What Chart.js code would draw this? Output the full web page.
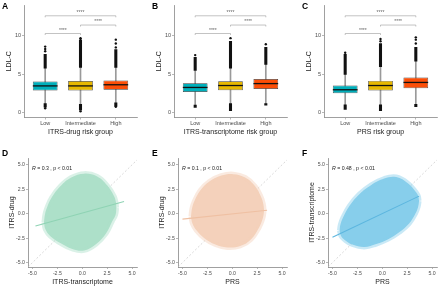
<!DOCTYPE html>
<html>
<head>
<meta charset="utf-8">
<script src="https://cdn.jsdelivr.net/npm/chart.js@4.4.0/dist/chart.umd.min.js"></script>
<style>
  body { margin: 0; background: #fff; }
  #fig { position: relative; width: 440px; height: 286px; overflow: hidden; }
  .cell { position: absolute; width: 150px; height: 143px; }
  .letter { position: absolute; font: bold 8.5px 'Liberation Sans', Arial, sans-serif; color: #000; }
</style>
</head>
<body>
<div id="fig">
  <div class="cell" style="left:0;top:0"><canvas id="boxA" width="150" height="143"></canvas></div>
  <div class="cell" style="left:150px;top:0"><canvas id="boxB" width="150" height="143"></canvas></div>
  <div class="cell" style="left:300px;top:0"><canvas id="boxC" width="150" height="143"></canvas></div>
  <div class="cell" style="left:0;top:143px"><canvas id="scatD" width="150" height="143"></canvas></div>
  <div class="cell" style="left:150px;top:143px"><canvas id="scatE" width="150" height="143"></canvas></div>
  <div class="cell" style="left:300px;top:143px"><canvas id="scatF" width="150" height="143"></canvas></div>
  <div class="letter" style="left:2px;top:1px">A</div>
  <div class="letter" style="left:152px;top:1px">B</div>
  <div class="letter" style="left:302px;top:1px">C</div>
  <div class="letter" style="left:2px;top:148px">D</div>
  <div class="letter" style="left:152px;top:148px">E</div>
  <div class="letter" style="left:302px;top:148px">F</div>
</div>
<script>
const riskGroups = ['Low', 'Intermediate', 'High'];
const groupColors = ['#00AFBB', '#E7B800', '#FC4E07'];
const ldlTicks = [0, 5, 10];

// A: ITRS-drug risk groups
const drugQ1 = [2.9, 2.9, 3.0];
const drugMedian = [3.5, 3.5, 3.65];
const drugQ3 = [4.07, 4.13, 4.2];
const drugWhiskerLow = [1.2, 1.1, 1.3];
const drugWhiskerHigh = [5.8, 5.9, 5.9];
const drugDenseLow = [0.75, 0.35, 0.85];
const drugDenseHigh = [7.6, 9.4, 8.2];
const drugOutliers = [[8.0, 8.3, 8.6, 0.6], [9.6, 9.7, 0.2], [8.5, 9.0, 9.5, 0.8]];

// B: ITRS-transcriptome risk groups
const transQ1 = [2.7, 2.95, 3.1];
const transMedian = [3.3, 3.55, 3.8];
const transQ3 = [3.85, 4.1, 4.4];
const transWhiskerLow = [1.0, 1.2, 1.2];
const transWhiskerHigh = [5.5, 5.8, 6.3];
const transDenseLow = [0.7, 0.3, 1.0];
const transDenseHigh = [7.2, 9.3, 8.5];
const transOutliers = [[7.5], [9.7], [8.9]];

// C: PRS risk groups
const prsQ1 = [2.55, 2.9, 3.2];
const prsMedian = [3.0, 3.55, 3.95];
const prsQ3 = [3.55, 4.15, 4.6];
const prsWhiskerLow = [1.05, 1.05, 1.1];
const prsWhiskerHigh = [5.0, 6.0, 6.7];
const prsDenseLow = [0.45, 0.3, 0.8];
const prsDenseHigh = [7.6, 9.0, 8.5];
const prsOutliers = [[7.8], [9.3, 9.6], [9.0, 9.5, 9.8]];

// significance brackets (group positions 1..3)
const sigPairs = [[1, 2], [2, 3], [1, 3]];
const sigHeights = [10.3, 11.4, 12.6];
const sigLabel = '****';

// scatter panels: outline of the point cloud (upper / lower edge), fit line
const scoreTicks = [-5, -2.5, 0, 2.5, 5];
const identityLine = [{ x: -5.45, y: -5.45 }, { x: 5.5, y: 5.5 }];

const dCloudTop = [{x:-3.85,y:-0.9},{x:-3.75,y:-0.1},{x:-3.55,y:0.6},{x:-3.1,y:1.6},{x:-2.2,y:2.8},{x:-1.1,y:3.7},{x:0.2,y:4.1},{x:1.5,y:3.8},{x:2.5,y:2.9},{x:3.2,y:1.8},{x:3.38,y:1.2},{x:3.45,y:0.6}];
const dCloudBottom = [{x:-3.85,y:-0.9},{x:-3.7,y:-1.6},{x:-3.2,y:-2.3},{x:-2.2,y:-3.0},{x:-1.0,y:-3.6},{x:0.2,y:-3.75},{x:1.4,y:-3.1},{x:2.4,y:-2.0},{x:3.0,y:-0.8},{x:3.35,y:-0.1},{x:3.45,y:0.6}];
const dFit = [{x:-4.7,y:-1.25},{x:4.2,y:1.25}];

const eCloudTop = [{x:-4.15,y:-0.3},{x:-4.05,y:0.5},{x:-3.8,y:1.3},{x:-3.2,y:2.4},{x:-2.3,y:3.3},{x:-1.1,y:3.9},{x:0.1,y:4.05},{x:1.3,y:3.7},{x:2.3,y:2.8},{x:2.9,y:1.7},{x:3.12,y:1.0},{x:3.2,y:0.3}];
const eCloudBottom = [{x:-4.15,y:-0.3},{x:-4.0,y:-1.0},{x:-3.6,y:-1.7},{x:-2.8,y:-2.5},{x:-1.7,y:-3.15},{x:-0.5,y:-3.45},{x:0.8,y:-3.3},{x:1.9,y:-2.6},{x:2.7,y:-1.4},{x:3.08,y:-0.45},{x:3.2,y:0.3}];
const eFit = [{x:-5.0,y:-0.55},{x:3.5,y:0.35}];

const fCloudTop = [{x:-4.3,y:-1.7},{x:-4.2,y:-1.1},{x:-3.95,y:-0.4},{x:-3.3,y:0.8},{x:-2.3,y:2.0},{x:-1.1,y:2.95},{x:0.2,y:3.6},{x:1.4,y:3.75},{x:2.6,y:3.1},{x:3.4,y:2.2},{x:3.62,y:1.8},{x:3.7,y:1.3}];
const fCloudBottom = [{x:-4.3,y:-1.7},{x:-4.15,y:-2.25},{x:-3.8,y:-2.65},{x:-3.0,y:-3.15},{x:-1.8,y:-3.4},{x:-0.6,y:-3.1},{x:0.6,y:-2.6},{x:1.7,y:-1.9},{x:2.7,y:-1.0},{x:3.35,y:0.05},{x:3.6,y:0.7},{x:3.7,y:1.3}];
const fFit = [{x:-5.0,y:-2.4},{x:3.7,y:1.8}];

const corrR = ['0.3', '0.1', '0.48'];
const corrP = '0.01';

const family = "'Liberation Sans', Arial, sans-serif";
const tickFont = { family, size: 5.5 };
const titleFont = { family, size: 7 };

const medianPlugin = {
  id: 'medians',
  afterDatasetsDraw(chart, args, opts) {
    const { ctx, scales: { x, y } } = chart;
    const bars = chart.getDatasetMeta(0).data;
    ctx.save();
    ctx.strokeStyle = '#111';
    ctx.lineWidth = 1.3;
    opts.values.forEach((m, i) => {
      const half = bars[i].width / 2;
      const px = x.getPixelForValue(i + 1), py = y.getPixelForValue(m);
      ctx.beginPath(); ctx.moveTo(px - half, py); ctx.lineTo(px + half, py); ctx.stroke();
    });
    ctx.restore();
  }
};

const bracketPlugin = {
  id: 'brackets',
  afterDatasetsDraw(chart) {
    const { ctx, scales: { x, y } } = chart;
    ctx.save();
    ctx.strokeStyle = '#9a9a9a';
    ctx.lineWidth = 0.6;
    ctx.fillStyle = '#666';
    ctx.font = `5px ${family}`;
    ctx.textAlign = 'center';
    ctx.textBaseline = 'bottom';
    sigPairs.forEach(([a, b], i) => {
      const x1 = x.getPixelForValue(a), x2 = x.getPixelForValue(b);
      const py = y.getPixelForValue(sigHeights[i]);
      ctx.beginPath();
      ctx.moveTo(x1, py + 1.5); ctx.lineTo(x1, py); ctx.lineTo(x2, py); ctx.lineTo(x2, py + 1.5);
      ctx.stroke();
      ctx.fillText(sigLabel, (x1 + x2) / 2, py - 0.5);
    });
    ctx.restore();
  }
};

const statPlugin = {
  id: 'stat',
  afterDraw(chart, args, opts) {
    const { ctx, chartArea } = chart;
    ctx.save();
    ctx.fillStyle = '#222';
    ctx.textBaseline = 'middle';
    let tx = chartArea.left + 4;
    const ty = chartArea.top + 11;
    ctx.font = `italic 5.2px ${family}`;
    ctx.fillText('R', tx, ty);
    tx += ctx.measureText('R').width;
    ctx.font = `5.2px ${family}`;
    ctx.fillText(` = ${opts.r} , p < ${corrP}`, tx, ty);
    ctx.restore();
  }
};

function axisStyle() {
  return {
    grid: { display: true, drawOnChartArea: false, tickLength: 2, color: '#888', lineWidth: 0.6, offset: false },
    border: { color: '#888', width: 0.8 }
  };
}

function drawBoxPanel(id, xTitle, q1, med, q3, wLo, wHi, dLo, dHi, outliers) {
  const pos = riskGroups.map((g, i) => i + 1);
  new Chart(document.getElementById(id), {
    type: 'bar',
    data: {
      datasets: [
        { data: pos.map((p, i) => ({ x: p, y: [q1[i], q3[i]] })), backgroundColor: groupColors,
          borderColor: '#3a3a3a', borderWidth: 0.7, borderSkipped: false,
          barPercentage: 0.7, categoryPercentage: 1, grouped: false, order: 2 },
        { data: pos.map((p, i) => ({ x: p, y: [wLo[i], wHi[i]] })), backgroundColor: '#9a9a9a',
          barThickness: 1, grouped: false, order: 5 },
        { data: pos.map((p, i) => ({ x: p, y: [wHi[i], dHi[i]] })), backgroundColor: '#111',
          barThickness: 2.4, grouped: false, order: 4 },
        { data: pos.map((p, i) => ({ x: p, y: [dLo[i], wLo[i]] })), backgroundColor: '#111',
          barThickness: 2.4, grouped: false, order: 4 },
        { type: 'scatter', data: outliers.flatMap((vals, i) => vals.map(v => ({ x: pos[i], y: v }))),
          pointRadius: 1.2, backgroundColor: '#111', borderWidth: 0, order: 1 }
      ]
    },
    options: {
      responsive: false,
      animation: false,
      layout: { padding: { left: 0, right: 13, top: 5, bottom: 0 }, autoPadding: false },
      plugins: { legend: { display: false }, tooltip: { enabled: false }, medians: { values: med } },
      scales: {
        x: {
          type: 'linear', min: 0.4, max: 3.6, offset: false,
          afterBuildTicks: s => { s.ticks = pos.map(v => ({ value: v })); },
          afterFit: s => { s.height = 25.5; },
          ...axisStyle(),
          ticks: { font: tickFont, color: '#4d4d4d', padding: 1, maxRotation: 0, autoSkip: false,
                   callback: v => riskGroups[v - 1] },
          title: { display: true, text: xTitle, font: titleFont, color: '#222', padding: { top: 0, bottom: 6.5 } }
        },
        y: {
          min: -0.6, max: 14,
          afterBuildTicks: s => { s.ticks = ldlTicks.map(v => ({ value: v })); },
          afterFit: s => { s.width = 24; },
          ...axisStyle(),
          ticks: { font: tickFont, color: '#4d4d4d', padding: 1 },
          title: { display: true, text: 'LDL-C', font: titleFont, color: '#222', padding: { top: 5, bottom: 0 } }
        }
      }
    },
    plugins: [medianPlugin, bracketPlugin]
  });
}

function drawScatterPanel(id, xTitle, yTitle, r, top, bottom, fit, cloud, edge, lineColor) {
  new Chart(document.getElementById(id), {
    type: 'line',
    data: {
      datasets: [
        { data: fit, borderColor: lineColor, borderWidth: 1.1, pointRadius: 0, fill: false, order: 0 },
        { data: top, borderColor: edge, borderWidth: 5, pointRadius: 0, tension: 0.4, fill: false, order: 2 },
        { data: bottom, borderColor: edge, borderWidth: 5, pointRadius: 0, tension: 0.4,
          fill: '-1', backgroundColor: cloud, order: 2 },
        { data: identityLine, borderColor: '#bdbdbd', borderWidth: 0.6, borderDash: [2, 2],
          pointRadius: 0, fill: false, order: 3 }
      ]
    },
    options: {
      responsive: false,
      animation: false,
      layout: { padding: { left: 0, right: 13, top: 15, bottom: 0 }, autoPadding: false },
      plugins: { legend: { display: false }, tooltip: { enabled: false }, stat: { r } },
      scales: {
        x: {
          type: 'linear', min: -5.45, max: 5.5,
          afterBuildTicks: s => { s.ticks = scoreTicks.map(v => ({ value: v })); },
          afterFit: s => { s.height = 19; },
          ...axisStyle(),
          ticks: { font: { family, size: 5.2 }, color: '#4d4d4d', padding: 1, maxRotation: 0, autoSkip: false,
                   callback: v => v.toFixed(1) },
          title: { display: true, text: xTitle, font: titleFont, color: '#222', padding: { top: 0, bottom: 0 } }
        },
        y: {
          type: 'linear', min: -5.45, max: 5.7,
          afterBuildTicks: s => { s.ticks = scoreTicks.map(v => ({ value: v })); },
          afterFit: s => { s.width = 28; },
          ...axisStyle(),
          ticks: { font: { family, size: 5.2 }, color: '#4d4d4d', padding: 1, callback: v => v.toFixed(1) },
          title: { display: true, text: yTitle, font: titleFont, color: '#222', padding: { top: 8, bottom: 0 } }
        }
      }
    },
    plugins: [statPlugin]
  });
}

drawBoxPanel('boxA', 'ITRS-drug risk group', drugQ1, drugMedian, drugQ3, drugWhiskerLow, drugWhiskerHigh, drugDenseLow, drugDenseHigh, drugOutliers);
drawBoxPanel('boxB', 'ITRS-transcriptome risk group', transQ1, transMedian, transQ3, transWhiskerLow, transWhiskerHigh, transDenseLow, transDenseHigh, transOutliers);
drawBoxPanel('boxC', 'PRS risk group', prsQ1, prsMedian, prsQ3, prsWhiskerLow, prsWhiskerHigh, prsDenseLow, prsDenseHigh, prsOutliers);

drawScatterPanel('scatD', 'ITRS-transcriptome', 'ITRS-drug', corrR[0], dCloudTop, dCloudBottom, dFit,
  '#ade0c9', 'rgba(173,224,201,0.45)', '#8fd3b4');
drawScatterPanel('scatE', 'PRS', 'ITRS-drug', corrR[1], eCloudTop, eCloudBottom, eFit,
  '#f4d1bb', 'rgba(244,209,187,0.45)', '#efc0a3');
drawScatterPanel('scatF', 'PRS', 'ITRS-transcriptome', corrR[2], fCloudTop, fCloudBottom, fFit,
  '#87ceeb', 'rgba(135,206,235,0.45)', '#5cb6df');
</script>
</body>
</html>
